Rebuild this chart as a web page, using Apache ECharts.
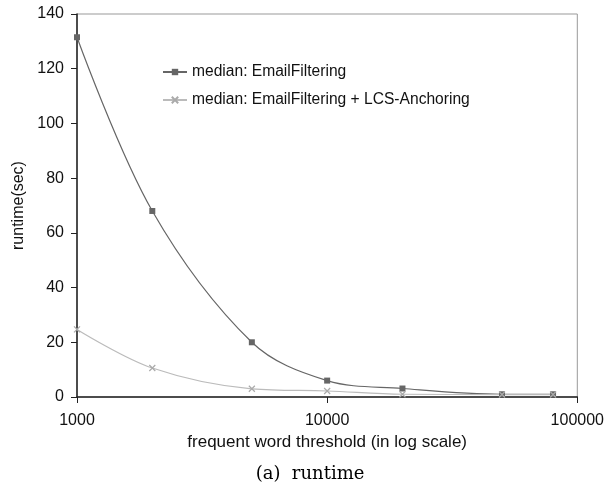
<!DOCTYPE html>
<html>
<head>
<meta charset="utf-8">
<script src="https://cdn.jsdelivr.net/npm/echarts@6/dist/echarts.min.js"></script>
<style>html,body{margin:0;padding:0;background:#fff}#c{width:607px;height:489px}</style>
</head>
<body>
<div id="c"></div>
<script>
const thresholds = [1000, 2000, 5000, 10000, 20000, 50000, 80000];
const emailFiltering = [131.5, 68, 20, 6, 3.1, 1, 1];
const emailFilteringLCS = [24.7, 10.6, 3, 2.2, 1, 0.9, 0.9];
const seriesNames = ['median: EmailFiltering', 'median: EmailFiltering + LCS-Anchoring'];
const xTicks = [1000, 10000, 100000];
const yTicks = [0, 20, 40, 60, 80, 100, 120, 140];

const xSymbol = 'path://M0,0L10,10M10,0L0,10';
const font = '"Liberation Sans", Arial, sans-serif';
const chart = echarts.init(document.getElementById('c'));
chart.setOption({
  animation: false,
  backgroundColor: '#fff',
  grid: { left: 77, right: 29, top: 14, bottom: 92, show: true, borderColor: '#999', borderWidth: 1 },
  title: {
    text: '(a)  runtime', left: 305, textAlign: 'center', top: 460,
    textStyle: { fontFamily: '"DejaVu Serif", "Liberation Serif", serif', fontWeight: 'normal', fontSize: 18, color: '#000' }
  },
  legend: {
    orient: 'vertical', left: 157, top: 59, itemGap: 12, itemWidth: 24, itemHeight: 8,
    textStyle: { fontFamily: font, fontSize: 15.6, color: '#111' },
    data: seriesNames
  },
  xAxis: {
    type: 'log', logBase: 10, min: xTicks[0], max: xTicks[xTicks.length - 1],
    name: 'frequent word threshold (in log scale)', nameLocation: 'middle', nameGap: 35,
    nameTextStyle: { fontFamily: font, fontSize: 17, color: '#111' },
    axisLine: { lineStyle: { color: '#222', width: 1.5 } },
    axisTick: { show: true, inside: false, length: 6, lineStyle: { color: '#222' } },
    axisLabel: { fontFamily: font, fontSize: 16, color: '#111', margin: 16,
      formatter: v => String(Math.round(v)) },
    minorTick: { show: false },
    splitLine: { show: false }
  },
  yAxis: {
    type: 'value', min: yTicks[0], max: yTicks[yTicks.length - 1], interval: 20,
    name: 'runtime(sec)', nameLocation: 'middle', nameGap: 48,
    nameTextStyle: { fontFamily: font, fontSize: 16, color: '#111' },
    axisLine: { show: true, lineStyle: { color: '#222', width: 1.5 } },
    axisTick: { show: true, length: 6, lineStyle: { color: '#222' } },
    axisLabel: { fontFamily: font, fontSize: 16, color: '#111', margin: 13 },
    splitLine: { show: false }
  },
  series: [
    {
      name: seriesNames[0], type: 'line', smooth: 0.35,
      data: thresholds.map((x, i) => [x, emailFiltering[i]]),
      symbol: 'rect', symbolSize: 6,
      lineStyle: { color: '#666', width: 1.2 },
      itemStyle: { color: '#666' }
    },
    {
      name: seriesNames[1], type: 'line', smooth: 0.35,
      data: thresholds.map((x, i) => [x, emailFilteringLCS[i]]),
      symbol: xSymbol, symbolSize: 6,
      lineStyle: { color: '#bbb', width: 1.2 },
      itemStyle: { color: '#bbb', borderColor: '#aaa', borderWidth: 1.2 }
    }
  ]
});
</script>
</body>
</html>
